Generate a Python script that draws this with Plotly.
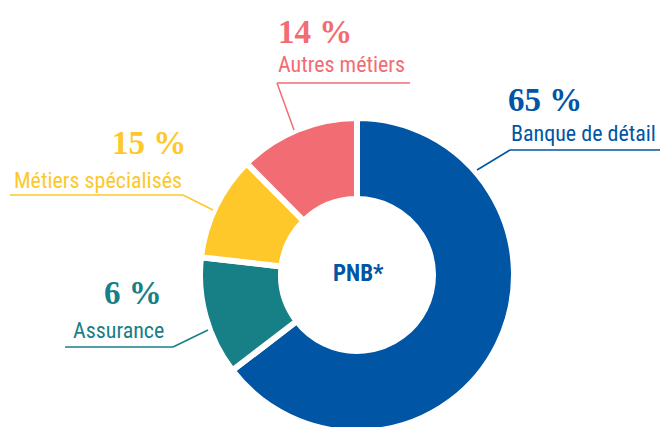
import plotly.graph_objects as go

# Répartition du PNB par métier
metiers = ['Banque de détail', 'Assurance', 'Métiers spécialisés', 'Autres métiers']
pct_affiches = [65, 6, 15, 14]          # pourcentages annoncés
parts_dessinees = [64.6, 12.2, 10.8, 12.4]  # taille des parts telle que dessinée
couleurs = ['#0055A4', '#177F86', '#FEC82A', '#F26C73']
libelle_centre = 'PNB*'

W, H = 661, 440


def px(x):
    return x / W


def py(y):
    return 1 - y / H


fig = go.Figure()

fig.add_trace(go.Pie(
    labels=metiers,
    values=parts_dessinees,
    hole=0.484,
    sort=False,
    direction='clockwise',
    rotation=0,
    textinfo='none',
    hoverinfo='label',
    marker=dict(colors=couleurs, line=dict(color='white', width=6)),
    domain=dict(x=[px(200), px(514)], y=[py(432), py(118)]),
    showlegend=False,
))

# Étiquettes : (x pct, x libellé, y pct, y libellé, alignement, ligne de rappel)
etiquettes = [
    (507, 510, 100, 133, 'left', [(660, 150), (510, 150), (477, 170)]),
    (163, 72, 293, 330, None, [(65, 347), (173, 347), (208, 330)]),
    (187, 183, 143, 180, 'right', [(10, 195), (183, 195), (213, 210)]),
    (277, 277, 32, 65, 'left', [(410, 83), (277, 83), (294, 130)]),
]

serif = 'Liberation Serif, DejaVu Serif, serif'
sans = 'Roboto Condensed, Liberation Sans Narrow, Roboto, sans-serif'

for (xp, xl, y1, y2, align, ligne), nom, pct, col in zip(etiquettes, metiers, pct_affiches, couleurs):
    fig.add_annotation(x=px(xp), y=py(y1), xref='paper', yref='paper',
                       text='<b>%d %%</b>' % pct, showarrow=False,
                       xanchor=align or 'right', yanchor='middle', borderpad=0,
                       font=dict(family=serif, size=33, color=col))
    fig.add_annotation(x=px(xl), y=py(y2), xref='paper', yref='paper',
                       text=nom, showarrow=False,
                       xanchor=align or 'left', yanchor='middle', borderpad=0,
                       font=dict(family=sans, size=22, color=col))
    for (xa, ya), (xb, yb) in zip(ligne[:-1], ligne[1:]):
        fig.add_shape(type='line', xref='paper', yref='paper',
                      x0=px(xa), y0=py(ya), x1=px(xb), y1=py(yb),
                      line=dict(color=col, width=1.5))

fig.add_annotation(x=px(358), y=py(273), xref='paper', yref='paper',
                   text='<b>%s</b>' % libelle_centre, showarrow=False,
                   font=dict(family=sans, size=23, color=couleurs[0]))

fig.update_layout(
    width=W, height=H,
    margin=dict(l=0, r=0, t=0, b=0),
    paper_bgcolor='white',
    plot_bgcolor='white',
)

fig.write_html('out.html', config={'displayModeBar': False},
               post_script="document.body.style.margin='0';document.body.style.overflow='hidden';")
